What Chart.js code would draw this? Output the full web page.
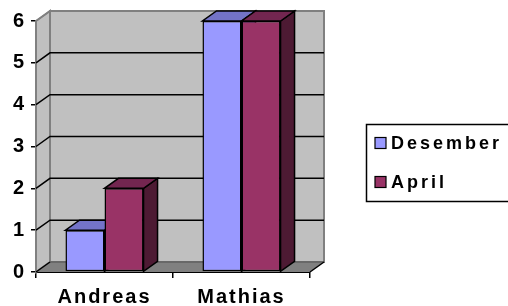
<!DOCTYPE html>
<html>
<head>
<meta charset="utf-8">
<script src="https://cdn.jsdelivr.net/npm/chart.js@4/dist/chart.umd.min.js"></script>
<style>
html,body{margin:0;padding:0;background:#fff;}
canvas{display:block;}
</style>
</head>
<body>
<canvas id="c" width="508" height="306"></canvas>
<script>
const categories = ['Andreas', 'Mathias'];
const desember = [1, 6];
const april = [2, 6];
const seriesNames = ['Desember', 'April'];
const yTicks = [0, 1, 2, 3, 4, 5, 6];

const FONT = '"Liberation Sans", Arial, sans-serif';
const DX = 14, DY = 10;
const faceColors = [
  {front: '#9999FF', top: '#7373C8', side: '#5C5C99'},
  {front: '#993366', top: '#732650', side: '#4D1A33'}
];

function poly(ctx, pts, fill, stroke, lw) {
  ctx.beginPath();
  ctx.moveTo(pts[0][0], pts[0][1]);
  for (let i = 1; i < pts.length; i++) ctx.lineTo(pts[i][0], pts[i][1]);
  ctx.closePath();
  if (fill) { ctx.fillStyle = fill; ctx.fill(); }
  if (stroke) { ctx.strokeStyle = stroke; ctx.lineWidth = lw || 1; ctx.stroke(); }
}

const threeD = {
  id: 'threeD',
  beforeDraw(chart) {
    chart.ctx.letterSpacing = '2px';
  },
  beforeDatasetsDraw(chart) {
    const ctx = chart.ctx;
    const a = chart.chartArea;
    const y = chart.scales.y;
    ctx.save();
    const L = a.left, R = a.right, T = y.getPixelForValue(6), B = y.getPixelForValue(0);
    poly(ctx, [[L + DX, T - DY], [R + DX, T - DY], [R + DX, B - DY], [L + DX, B - DY]], '#C0C0C0', '#808080', 2);
    poly(ctx, [[L, B], [L, T], [L + DX, T - DY], [L + DX, B - DY]], '#C0C0C0', '#808080', 2);
    poly(ctx, [[L, B], [R, B], [R + DX, B - DY], [L + DX, B - DY]], '#808080', null);
    ctx.strokeStyle = '#606060'; ctx.lineWidth = 1.5;
    ctx.beginPath(); ctx.moveTo(L + DX, B - DY); ctx.lineTo(R + DX, B - DY); ctx.stroke();
    ctx.strokeStyle = '#000'; ctx.lineWidth = 1.5;
    ctx.beginPath(); ctx.moveTo(R, B); ctx.lineTo(R + DX, B - DY); ctx.stroke();
    ctx.strokeStyle = '#000'; ctx.lineWidth = 1.5;
    yTicks.forEach(v => {
      if (v === 0 || v === 6) return;
      const py = y.getPixelForValue(v);
      ctx.beginPath();
      ctx.moveTo(L, py); ctx.lineTo(L + DX, py - DY); ctx.lineTo(R + DX, py - DY);
      ctx.stroke();
    });
    ctx.beginPath(); ctx.moveTo(L, B); ctx.lineTo(L + DX, B - DY); ctx.stroke();
    ctx.strokeStyle = '#808080';
    ctx.beginPath(); ctx.moveTo(L, T); ctx.lineTo(L + DX, T - DY); ctx.stroke();
    chart.data.datasets.forEach((ds, di) => {
      const meta = chart.getDatasetMeta(di);
      meta.data.forEach(bar => {
        const p = bar.getProps(['x', 'y', 'base', 'width'], true);
        const l = p.x - p.width / 2, r = p.x + p.width / 2;
        const c = faceColors[di];
        poly(ctx, [[r, p.y], [r + DX, p.y - DY], [r + DX, p.base - DY], [r, p.base]], c.side, '#000', 1.5);
        poly(ctx, [[l, p.y], [r, p.y], [r + DX, p.y - DY], [l + DX, p.y - DY]], c.top, '#000', 1.5);
      });
    });
    ctx.restore();
  },
  afterDraw(chart) {
    const ctx = chart.ctx;
    ctx.save();
    ctx.letterSpacing = '3px';
    ctx.strokeStyle = '#000'; ctx.lineWidth = 1.5;
    ctx.strokeRect(366.5, 124.5, 150, 77);
    const rows = [143, 182];
    seriesNames.forEach((name, i) => {
      const cy = rows[i];
      ctx.fillStyle = faceColors[i].front;
      ctx.fillRect(375, cy - 5.5, 11, 11);
      ctx.lineWidth = 1.2; ctx.strokeStyle = '#000';
      ctx.strokeRect(375, cy - 5.5, 11, 11);
      ctx.fillStyle = '#000';
      ctx.font = 'bold 18px ' + FONT;
      ctx.textBaseline = 'middle';
      ctx.textAlign = 'left';
      ctx.fillText(name, 391, cy + 1);
    });
    ctx.restore();
  }
};

new Chart(document.getElementById('c'), {
  type: 'bar',
  data: {
    labels: categories,
    datasets: [
      {label: seriesNames[0], data: desember, backgroundColor: faceColors[0].front, borderColor: '#000', borderWidth: 1.5, borderSkipped: false},
      {label: seriesNames[1], data: april, backgroundColor: faceColors[1].front, borderColor: '#000', borderWidth: 1.5, borderSkipped: false}
    ]
  },
  options: {
    responsive: false,
    animation: false,
    devicePixelRatio: 1,
    layout: {padding: {top: 21, right: 198, left: 0, bottom: 0}},
    plugins: {legend: {display: false}, tooltip: {enabled: false}},
    datasets: {bar: {categoryPercentage: 0.57, barPercentage: 1.0}},
    scales: {
      x: {
        grid: {display: true, drawOnChartArea: false, drawTicks: true, tickLength: 6, color: '#000', lineWidth: 1.5, offset: true},
        border: {display: true, color: '#000', width: 2},
        ticks: {color: '#000', font: {family: FONT, size: 20, weight: 'bold'}, padding: 7, maxRotation: 0},
        afterFit(s) { s.height = 34; s.paddingLeft = 0; s.paddingRight = 0; }
      },
      y: {
        min: 0, max: 6,
        afterBuildTicks(s) { s.ticks = yTicks.map(v => ({value: v})); },
        grid: {display: true, drawOnChartArea: false, drawTicks: true, tickLength: 5, color: '#000', lineWidth: 1.5},
        border: {display: true, color: '#000', width: 2},
        ticks: {color: '#000', font: {family: FONT, size: 20, weight: 'bold'}, padding: 5},
        afterFit(s) { s.width = 36; s.paddingTop = 0; s.paddingBottom = 0; }
      }
    }
  },
  plugins: [threeD]
});
</script>
</body>
</html>
